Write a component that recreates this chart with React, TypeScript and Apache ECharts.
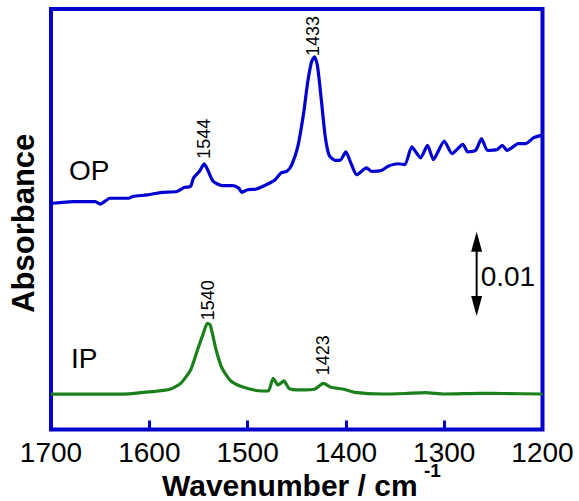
import React, { useEffect, useRef } from "react";
import * as echarts from "echarts";

// ---- data (wavenumber in cm^-1, absorbance) ----
const xRange = [1200, 1700];
const xTickStep = 100;

const opWavenumber = [
  1700, 1698, 1677, 1655, 1650, 1640, 1621, 1617, 1602, 1587, 1572, 1564, 1558, 1555, 1549, 1544,
  1540, 1535, 1526, 1515, 1509, 1506, 1500, 1491, 1481, 1472, 1466, 1460, 1455, 1449, 1443, 1439,
  1435, 1432, 1429, 1425, 1421, 1417, 1411, 1406, 1400, 1395, 1389, 1379, 1374, 1364, 1357, 1347,
  1340, 1333, 1324, 1317, 1311, 1300, 1292, 1281, 1276, 1268, 1262, 1256, 1246, 1241, 1236, 1230,
  1225, 1217, 1209, 1200,
];
const opAbsorbance = [
  0.0268, 0.0269, 0.0271, 0.0271, 0.0268, 0.0275, 0.0275, 0.0277, 0.0279, 0.0282, 0.0283, 0.0288,
  0.0289, 0.0299, 0.0307, 0.0316, 0.0307, 0.0295, 0.029, 0.029, 0.0287, 0.0282, 0.0285, 0.0286,
  0.0291, 0.0297, 0.0305, 0.0307, 0.0315, 0.0336, 0.0376, 0.0412, 0.0437, 0.0443, 0.0433, 0.0392,
  0.0348, 0.0326, 0.032, 0.032, 0.033, 0.0317, 0.0303, 0.0311, 0.0307, 0.0308, 0.0313, 0.0316,
  0.0315, 0.0336, 0.0323, 0.0338, 0.0321, 0.0343, 0.0328, 0.0339, 0.033, 0.0332, 0.0346, 0.0332,
  0.0333, 0.0338, 0.0332, 0.0336, 0.034, 0.034, 0.0347, 0.035,
];

const ipWavenumber = [
  1700, 1660, 1628, 1594, 1579, 1568, 1558, 1551, 1545, 1541, 1538, 1532, 1526, 1517, 1504, 1489,
  1479, 1474, 1469, 1463, 1458, 1447, 1432, 1423, 1415, 1402, 1391, 1364, 1340, 1319, 1300, 1262,
  1240, 1200,
];
const ipAbsorbance = [
  0.0042, 0.0042, 0.0042, 0.00454, 0.00478, 0.00549, 0.00708, 0.00945, 0.01144, 0.01263, 0.01243,
  0.00945, 0.00728, 0.00577, 0.00502, 0.00461, 0.00458, 0.00609, 0.00529, 0.00577, 0.0049, 0.0047,
  0.00478, 0.00549, 0.00502, 0.00478, 0.00442, 0.00422, 0.00428, 0.00438, 0.00422, 0.0043, 0.00428,
  0.00422,
];

const opPeaks = [1544, 1433];
const ipPeaks = [1540, 1423];
const scaleBarValue = 0.01;
const scaleBarBase = 0.0135;
const scaleBarWavenumber = 1267;

const xAxisTitle = "Wavenumber / cm";
const xAxisTitleSup = "-1";
const yAxisTitle = "Absorbance";

export default function App() {
  const ref = useRef<HTMLDivElement>(null);

  useEffect(() => {
    const chart = echarts.init(ref.current!, null, { renderer: "svg" });
    const font = "'Liberation Sans', Arial, Helvetica, sans-serif";
    const blue = "#0000cc";
    const opColor = "#0000d0";
    const ipColor = "#1b7f1b";

    const opData = opWavenumber.map((w, i) => [w, opAbsorbance[i]]);
    const ipData = ipWavenumber.map((w, i) => [w, ipAbsorbance[i]]);

    chart.setOption({
      animation: false,
      grid: {
        left: 51,
        right: 36.5,
        top: 9,
        bottom: 71.5,
        show: true,
        borderColor: blue,
        borderWidth: 4,
        backgroundColor: "transparent",
        outerBoundsMode: "none",
        containLabel: false,
      },
      xAxis: {
        type: "value",
        min: xRange[0],
        max: xRange[1],
        interval: xTickStep,
        inverse: true,
        axisLine: { show: false },
        axisTick: { show: true, inside: true, length: 9, lineStyle: { color: blue, width: 3 } },
        axisLabel: {
          fontSize: 28,
          color: "#000",
          fontFamily: font,
          margin: 9,
          formatter: (v: number) => String(v),
        },
        splitLine: { show: false },
      },
      yAxis: {
        type: "value",
        min: 0,
        max: 0.05,
        axisLine: { show: false },
        axisTick: { show: false },
        axisLabel: { show: false },
        splitLine: { show: false },
        name: yAxisTitle,
        nameLocation: "middle",
        nameRotate: 90,
        nameGap: 12,
        nameTextStyle: { fontSize: 31, fontWeight: "bold", color: "#000", fontFamily: font, padding: [0, 8, 0, 0] },
      },
      series: [
        {
          name: "OP",
          type: "line",
          data: opData,
          showSymbol: false,
          symbol: "none",
          smooth: 0.2,
          lineStyle: { color: opColor, width: 3.2 },
          z: 3,
        },
        {
          name: "IP",
          type: "line",
          data: ipData,
          showSymbol: false,
          symbol: "none",
          smooth: 0.2,
          lineStyle: { color: ipColor, width: 3.2 },
          z: 3,
        },
      ],
    });

    const peakValue = (ws: number[], vs: number[], p: number) => {
      let best = -Infinity;
      ws.forEach((w, i) => {
        if (Math.abs(w - p) <= 3 && vs[i] > best) best = vs[i];
      });
      return best;
    };
    const gaps: Record<number, number> = { 1433: 1, 1544: 5, 1540: 3, 1423: 8 };
    const peakLabels: any[] = [];
    const addPeaks = (peaks: number[], ws: number[], vs: number[]) => {
      peaks.forEach((p) => {
        const [px, py] = chart.convertToPixel({ gridIndex: 0 }, [p, peakValue(ws, vs, p)]) as number[];
        peakLabels.push({
          type: "text",
          x: px,
          y: py - (gaps[p] ?? 4),
          rotation: Math.PI / 2,
          style: {
            text: String(p),
            fontSize: 18,
            fontFamily: font,
            fill: "#000",
            align: "left",
            verticalAlign: "middle",
          },
          z: 10,
        });
      });
    };
    addPeaks(opPeaks, opWavenumber, opAbsorbance);
    addPeaks(ipPeaks, ipWavenumber, ipAbsorbance);

    const [bx, bBottom] = chart.convertToPixel({ gridIndex: 0 }, [scaleBarWavenumber, scaleBarBase]) as number[];
    const [, bTop] = chart.convertToPixel({ gridIndex: 0 }, [scaleBarWavenumber, scaleBarBase + scaleBarValue]) as number[];
    const headLen = 20;
    const headHalf = 5.5;

    chart.setOption({
      graphic: [
        ...peakLabels,
        {
          type: "text",
          x: 162,
          y: 485,
          style: { text: xAxisTitle, fontSize: 30, fontWeight: "bold", fontFamily: font, fill: "#000", align: "left", verticalAlign: "middle" },
        },
        {
          type: "text",
          x: 424,
          y: 470,
          style: { text: xAxisTitleSup, fontSize: 19, fontWeight: "bold", fontFamily: font, fill: "#000", align: "left", verticalAlign: "middle" },
        },
        {
          type: "text",
          x: 69,
          y: 170,
          style: { text: "OP", fontSize: 28, fontFamily: font, fill: "#000", align: "left", verticalAlign: "middle" },
        },
        {
          type: "text",
          x: 71,
          y: 358,
          style: { text: "IP", fontSize: 28, fontFamily: font, fill: "#000", align: "left", verticalAlign: "middle" },
        },
        {
          type: "line",
          shape: { x1: bx, y1: bTop + headLen - 2, x2: bx, y2: bBottom - headLen + 2 },
          style: { stroke: "#000", lineWidth: 2 },
        },
        {
          type: "polygon",
          shape: { points: [[bx, bTop], [bx - headHalf, bTop + headLen], [bx + headHalf, bTop + headLen]] },
          style: { fill: "#000" },
        },
        {
          type: "polygon",
          shape: { points: [[bx, bBottom], [bx - headHalf, bBottom - headLen], [bx + headHalf, bBottom - headLen]] },
          style: { fill: "#000" },
        },
        {
          type: "text",
          x: bx + 4,
          y: (bTop + bBottom) / 2 + 3,
          style: {
            text: "0.01",
            fontSize: 28,
            fontFamily: font,
            fill: "#000",
            align: "left",
            verticalAlign: "middle",
          },
        },
      ],
    });

    return () => chart.dispose();
  }, []);

  return (
    <div
      ref={ref}
      style={{ position: "fixed", left: 0, top: 0, width: 579, height: 501, background: "#fff" }}
    />
  );
}
